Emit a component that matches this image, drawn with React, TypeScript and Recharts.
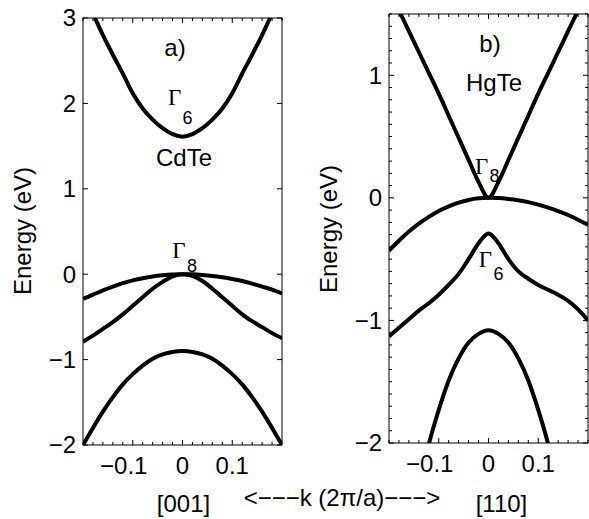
import React from 'react';
import { LineChart, Line, XAxis, YAxis, ReferenceDot } from 'recharts';

// wave vector, in units of 2π/a: negative side runs along [001], positive side along [110]
const kValues = [
  -0.2, -0.18, -0.16, -0.14, -0.12, -0.1, -0.08, -0.06, -0.04, -0.02, 0,
  0.02, 0.04, 0.06, 0.08, 0.1, 0.12, 0.14, 0.16, 0.18, 0.2,
];

// CdTe band energies (eV)
const cdteGamma6 = [
  3.3, 3.05, 2.8, 2.57, 2.35, 2.12, 1.94, 1.81, 1.71, 1.64, 1.61,
  1.64, 1.71, 1.81, 1.94, 2.12, 2.35, 2.57, 2.8, 3.05, 3.3,
];
const cdteHeavyHole = [
  -0.29, -0.24, -0.19, -0.145, -0.105, -0.073, -0.047, -0.026, -0.012, -0.003, 0,
  -0.002, -0.009, -0.02, -0.036, -0.056, -0.08, -0.11, -0.145, -0.18, -0.225,
];
const cdteLightHole = [
  -0.79, -0.72, -0.64, -0.56, -0.47, -0.37, -0.27, -0.17, -0.09, -0.025, 0,
  -0.02, -0.08, -0.17, -0.27, -0.37, -0.47, -0.55, -0.62, -0.69, -0.75,
];
const cdteSplitOff = [
  -2.0, -1.8, -1.61, -1.44, -1.29, -1.17, -1.07, -0.99, -0.94, -0.91, -0.9,
  -0.91, -0.94, -0.99, -1.07, -1.17, -1.29, -1.44, -1.61, -1.8, -2.0,
];

// HgTe band energies (eV), inverted ordering
const hgteGamma8Cond = [
  1.7, 1.53, 1.36, 1.19, 1.02, 0.85, 0.67, 0.49, 0.31, 0.13, 0,
  0.13, 0.31, 0.49, 0.67, 0.85, 1.02, 1.19, 1.36, 1.53, 1.7,
];
const hgteHeavyHole = [
  -0.43, -0.35, -0.275, -0.21, -0.155, -0.107, -0.069, -0.039, -0.017, -0.004, 0,
  -0.002, -0.009, -0.02, -0.035, -0.055, -0.08, -0.108, -0.14, -0.178, -0.22,
];
const hgteGamma6 = [
  -1.13, -1.06, -0.99, -0.92, -0.86, -0.79, -0.71, -0.62, -0.5, -0.37, -0.29,
  -0.37, -0.5, -0.6, -0.66, -0.71, -0.75, -0.79, -0.84, -0.91, -1.0,
];
const hgteSplitOff = [
  null, null, null, -2.35, -2.01, -1.73, -1.49, -1.31, -1.18, -1.11, -1.08,
  -1.11, -1.18, -1.31, -1.49, -1.73, -2.01, -2.35, null, null, null,
];

const SANS = '"Liberation Sans", Arial, Helvetica, sans-serif';
const SERIF = '"Liberation Serif", "Times New Roman", serif';

const range = (from: number, to: number, step: number) => {
  const out: number[] = [];
  const n = Math.round((to - from) / step);
  for (let i = 0; i <= n; i++) out.push(Math.round((from + i * step) * 1000) / 1000);
  return out;
};

const kTicks = range(-0.2, 0.2, 0.02);
const isMajor = (v: number, unit: number) => Math.abs(v / unit - Math.round(v / unit)) < 1e-6;
const fmt = (v: number) => (v === 0 ? '0' : v < 0 ? `\u2212${Math.abs(v)}` : `${v}`);

type Band = { key: string; values: (number | null)[] };
type Note = { k: number; e: number; text: string; sub?: string; subDx?: number; subDy?: number };
type Box = { left: number; right: number; top: number; bottom: number };

interface PanelProps {
  x: number;
  width: number;
  height: number;
  plot: Box;
  yDomain: [number, number];
  yTicks: number[];
  bands: Band[];
  notes: Note[];
}

// inward ticks along a horizontal edge, with labels on the bottom one
const xTick = (edgeY: number, dir: number, withLabel: boolean) => (props: any) => {
  const { x, payload } = props;
  const v = payload.value as number;
  const major = isMajor(v, 0.1) && Math.abs(v) < 0.15;
  const len = major ? 5 : 3;
  return (
    <g>
      <line x1={x} x2={x} y1={edgeY} y2={edgeY + dir * len} stroke="#000" strokeWidth={1} />
      {withLabel && major && (
        <text
          x={x}
          y={edgeY + 29}
          dx={v < 0 ? -9 : 0}
          textAnchor="middle"
          fontFamily={SANS}
          fontSize={24}
          fill="#000"
        >
          {fmt(v)}
        </text>
      )}
    </g>
  );
};

// inward ticks along a vertical edge, with labels on the left one
const yTick = (edgeX: number, dir: number, withLabel: boolean) => (props: any) => {
  const { y, payload } = props;
  const v = payload.value as number;
  const major = isMajor(v, 1);
  const len = major ? 5 : 3;
  return (
    <g>
      <line x1={edgeX} x2={edgeX + dir * len} y1={y} y2={y} stroke="#000" strokeWidth={1} />
      {withLabel && major && (
        <text
          x={edgeX - 7}
          y={y}
          dy="0.35em"
          textAnchor="end"
          fontFamily={SANS}
          fontSize={24}
          fill="#000"
        >
          {fmt(v)}
        </text>
      )}
    </g>
  );
};

function NoteText({ viewBox, note }: { viewBox: any; note: Note }) {
  const cx = viewBox.x + (viewBox.width || 0) / 2;
  const cy = viewBox.y + (viewBox.height || 0) / 2;
  if (!note.sub) {
    return (
      <text x={cx} y={cy} dy="0.35em" textAnchor="middle" fontFamily={SANS} fontSize={24} fill="#000">
        {note.text}
      </text>
    );
  }
  return (
    <g>
      <text x={cx} y={cy} dy="0.35em" textAnchor="middle" fontFamily={SERIF} fontSize={23} fill="#000">
        {note.text}
      </text>
      <text
        x={cx + (note.subDx ?? 13)}
        y={cy + (note.subDy ?? 15)}
        dy="0.35em"
        textAnchor="middle"
        fontFamily={SANS}
        fontSize={18}
        fill="#000"
      >
        {note.sub}
      </text>
    </g>
  );
}

function BandPanel({ x, width, height, plot, yDomain, yTicks, bands, notes }: PanelProps) {
  const rows = kValues.map((k, i) => {
    const row: Record<string, number | null> = { k };
    bands.forEach((b) => {
      row[b.key] = b.values[i];
    });
    return row;
  });

  return (
    <div style={{ position: 'absolute', left: x, top: 0 }}>
      <LineChart
        width={width}
        height={height}
        data={rows}
        margin={{
          top: plot.top - 1,
          bottom: height - plot.bottom - 1,
          left: plot.left - 1,
          right: width - plot.right - 1,
        }}
      >
        <XAxis
          xAxisId="b"
          dataKey="k"
          type="number"
          domain={[-0.2, 0.2]}
          allowDataOverflow
          ticks={kTicks}
          interval={0}
          height={1}
          tickLine={false}
          axisLine={{ stroke: '#000' }}
          tick={xTick(plot.bottom, -1, true)}
        />
        <XAxis
          xAxisId="t"
          orientation="top"
          dataKey="k"
          type="number"
          domain={[-0.2, 0.2]}
          allowDataOverflow
          ticks={kTicks}
          interval={0}
          height={1}
          tickLine={false}
          axisLine={{ stroke: '#000' }}
          tick={xTick(plot.top, 1, false)}
        />
        <YAxis
          yAxisId="l"
          type="number"
          domain={yDomain}
          allowDataOverflow
          ticks={yTicks}
          interval={0}
          width={1}
          tickLine={false}
          axisLine={{ stroke: '#000' }}
          tick={yTick(plot.left, 1, true)}
        />
        <YAxis
          yAxisId="r"
          orientation="right"
          type="number"
          domain={yDomain}
          allowDataOverflow
          ticks={yTicks}
          interval={0}
          width={1}
          tickLine={false}
          axisLine={{ stroke: '#000' }}
          tick={yTick(plot.right, -1, false)}
        />
        {bands.map((b) => (
          <Line
            key={b.key}
            xAxisId="b"
            yAxisId="l"
            dataKey={b.key}
            type="monotone"
            stroke="#000"
            strokeWidth={4}
            dot={false}
            activeDot={false}
            isAnimationActive={false}
          />
        ))}
        {notes.map((n, i) => (
          <ReferenceDot
            key={i}
            xAxisId="b"
            yAxisId="l"
            x={n.k}
            y={n.e}
            r={0}
            fill="none"
            stroke="none"
            label={(p: any) => <NoteText viewBox={p.viewBox} note={n} />}
          />
        ))}
      </LineChart>
    </div>
  );
}

const cdteNotes: Note[] = [
  { k: -0.015, e: 2.65, text: 'a)' },
  { k: -0.016, e: 2.07, text: '\u0393', sub: '6', subDx: 13, subDy: 20 },
  { k: 0.003, e: 1.37, text: 'CdTe' },
  { k: -0.007, e: 0.28, text: '\u0393', sub: '8', subDx: 13, subDy: 15 },
];

const hgteNotes: Note[] = [
  { k: 0.003, e: 1.255, text: 'b)' },
  { k: 0.011, e: 0.94, text: 'HgTe' },
  { k: -0.014, e: 0.263, text: '\u0393', sub: '8', subDx: 13, subDy: 10 },
  { k: -0.006, e: -0.5, text: '\u0393', sub: '6', subDx: 13, subDy: 15 },
];

export default function App() {
  return (
    <div style={{ position: 'absolute', left: 0, top: 0, width: 589, height: 519, background: '#fff' }}>
      <BandPanel
        x={0}
        width={300}
        height={519}
        plot={{ left: 83, right: 282, top: 18, bottom: 445 }}
        yDomain={[-2, 3]}
        yTicks={[-2, -1, 0, 1, 2, 3]}
        bands={[
          { key: 'gamma6', values: cdteGamma6 },
          { key: 'heavy', values: cdteHeavyHole },
          { key: 'light', values: cdteLightHole },
          { key: 'split', values: cdteSplitOff },
        ]}
        notes={cdteNotes}
      />
      <BandPanel
        x={300}
        width={289}
        height={519}
        plot={{ left: 89, right: 288, top: 14, bottom: 443 }}
        yDomain={[-2, 1.5]}
        yTicks={range(-2, 1.5, 0.1)}
        bands={[
          { key: 'gamma8', values: hgteGamma8Cond },
          { key: 'heavy', values: hgteHeavyHole },
          { key: 'gamma6', values: hgteGamma6 },
          { key: 'split', values: hgteSplitOff },
        ]}
        notes={hgteNotes}
      />
      <svg
        width={589}
        height={519}
        style={{ position: 'absolute', left: 0, top: 0, pointerEvents: 'none' }}
        fontFamily={SANS}
        fontSize={24}
        fill="#000"
      >
        <text x={31} y={231} textAnchor="middle" transform="rotate(-90 31 231)">
          Energy (eV)
        </text>
        <text x={337} y={229} textAnchor="middle" transform="rotate(-90 337 229)">
          Energy (eV)
        </text>
        <text x={183.5} y={512} textAnchor="middle">
          [001]
        </text>
        <text x={342} y={506} textAnchor="middle">
          {'<\u2212\u2212\u2212k (2\u03c0/a)\u2212\u2212\u2212>'}
        </text>
        <text x={501.5} y={512} textAnchor="middle">
          [110]
        </text>
      </svg>
    </div>
  );
}
